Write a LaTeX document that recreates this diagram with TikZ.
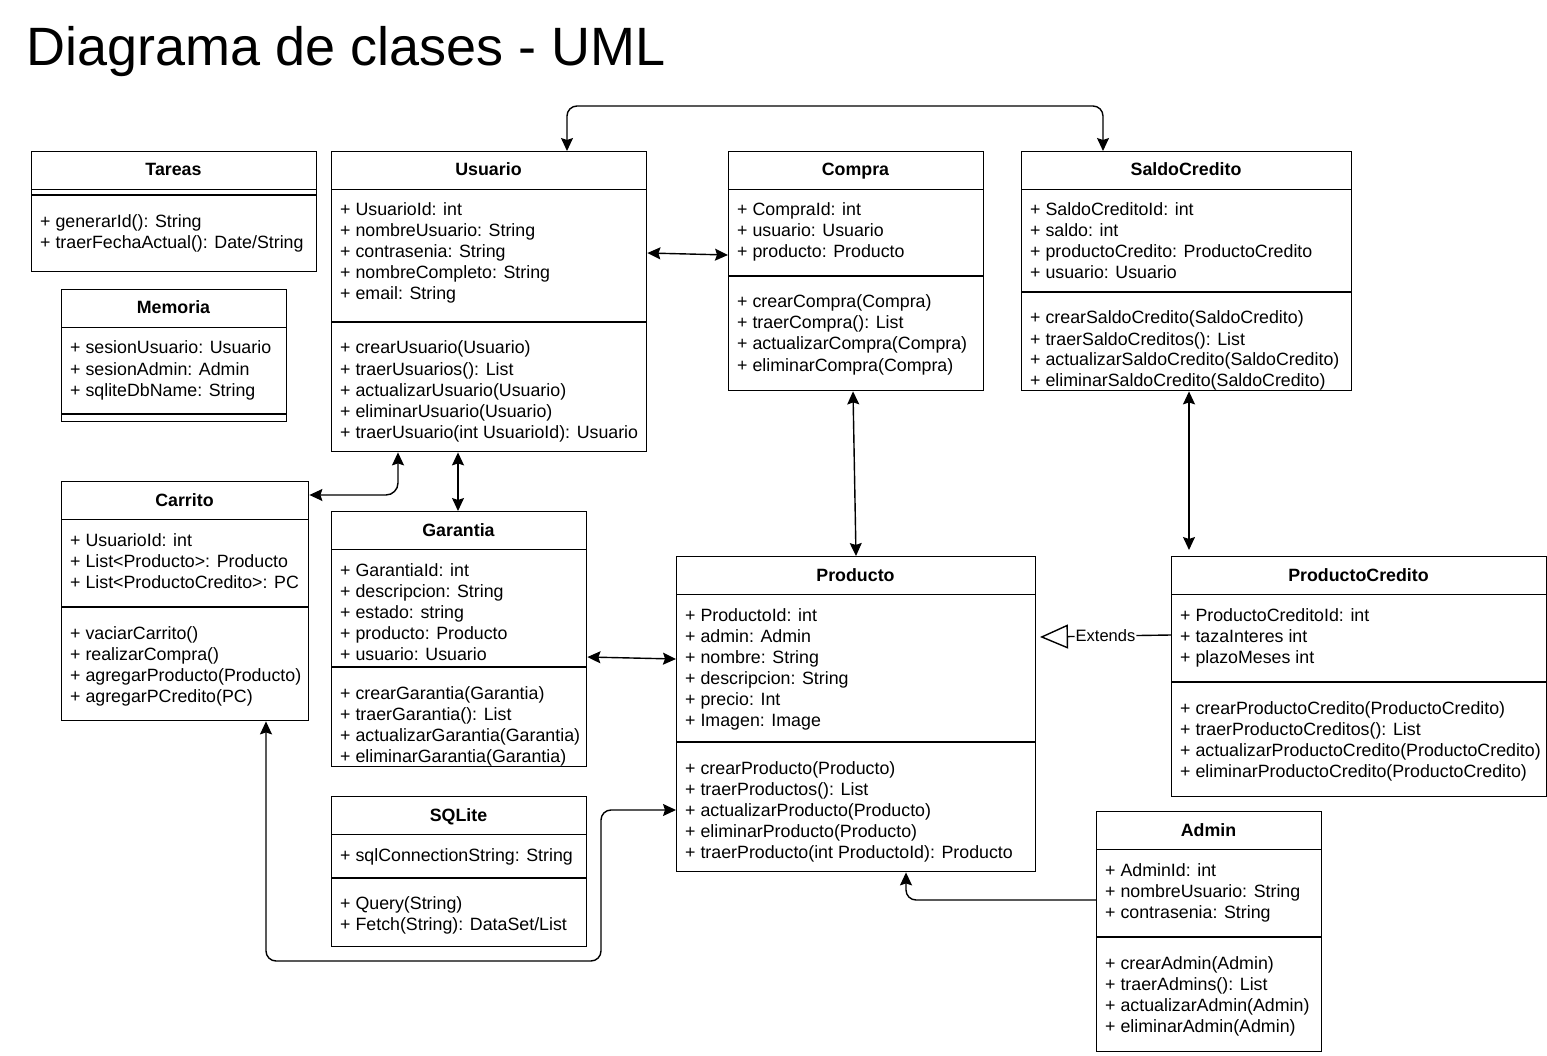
\documentclass[tikz,border=0pt]{standalone}
\usepackage{fontspec}
\setmainfont{Liberation Sans}
\usetikzlibrary{arrows.meta}
\tikzset{
  box/.style={draw, line width=1.4pt, inner sep=0pt},
  ln/.style={line width=1.4pt},
  hd/.style={font=\fontsize{17.8}{21}\selectfont\bfseries, anchor=base, inner sep=0pt},
  txt/.style={font=\fontsize{17.8}{21}\selectfont, anchor=base west, inner sep=0pt},
  ah/.tip={Stealth[length=13pt,width=12pt,inset=2pt]},
  conn/.style={line width=1.4pt, rounded corners=10pt},
  both/.style={conn, ah-ah},
  onearrow/.style={conn, -ah},
}
\newcommand\cls[6]{%
  \node[box, minimum width={(#4)-(#2)}, minimum height={(#5)-(#3)}, anchor=north west] (#1) at (#2,#3) {};
  \draw[ln] (#2,#3+38.5) -- (#4,#3+38.5);
  \node[hd] (#1-h) at ({((#2)+(#4))/2},#3+25) {#6};
}
\newcommand\sepl[3]{\draw[ln] (#1,#3) -- (#2,#3);}
\newcommand\lns[4]{%
  \foreach \ltxt [count=\i from 0] in {#4} {\node[txt] (#1-\i) at (#2,#3+21*\i) {\ltxt};}%
}
\begin{document}
\begin{tikzpicture}[x=1pt,y=-1pt]
\useasboundingbox (0,0) rectangle (1547,1056);

\node[font=\fontsize{54}{60}\selectfont, anchor=base west, inner sep=0pt] (title) at (26,66) {Diagrama de clases - UML};

% Tareas
\cls{tar}{31}{151}{316}{271}{Tareas}
\sepl{31}{316}{195}
\lns{tarm}{40}{228}{+ generarId(): String, + traerFechaActual(): Date/String}

% Memoria
\cls{mem}{61}{289}{286}{421}{Memoria}
\sepl{61}{286}{414}
\lns{mema}{70}{354}{+ sesionUsuario: Usuario, + sesionAdmin: Admin, + sqliteDbName: String}

% Usuario
\cls{usu}{331}{151}{646}{451}{Usuario}
\sepl{331}{646}{322}
\lns{usua}{340}{216}{+ UsuarioId: int, + nombreUsuario: String, + contrasenia: String, + nombreCompleto: String, + email: String}
\lns{usum}{340}{354}{+ crearUsuario(Usuario), + traerUsuarios(): List, + actualizarUsuario(Usuario), + eliminarUsuario(Usuario), + traerUsuario(int UsuarioId): Usuario}

% Compra
\cls{com}{728}{151}{983}{390}{Compra}
\sepl{728}{983}{276}
\lns{coma}{737}{216}{+ CompraId: int, + usuario: Usuario, + producto: Producto}
\lns{comm}{737}{308}{+ crearCompra(Compra), + traerCompra(): List, + actualizarCompra(Compra), + eliminarCompra(Compra)}

% SaldoCredito
\cls{sal}{1021}{151}{1351}{390}{SaldoCredito}
\sepl{1021}{1351}{292}
\lns{sala}{1030}{216}{+ SaldoCreditoId: int, + saldo: int, + productoCredito: ProductoCredito, + usuario: Usuario}
\lns{salm}{1030}{324}{+ crearSaldoCredito(SaldoCredito), + traerSaldoCreditos(): List, + actualizarSaldoCredito(SaldoCredito), + eliminarSaldoCredito(SaldoCredito)}

% Carrito
\cls{car}{61}{481}{308}{720}{Carrito}
\sepl{61}{308}{607}
\lns{cara}{70}{546}{+ UsuarioId: int, + List<Producto>: Producto, + List<ProductoCredito>: PC}
\lns{carm}{70}{639}{+ vaciarCarrito(), + realizarCompra(), + agregarProducto(Producto), + agregarPCredito(PC)}

% Garantia
\cls{gar}{331}{511}{586}{766}{Garantia}
\sepl{331}{586}{667}
\lns{gara}{340}{576}{+ GarantiaId: int, + descripcion: String, + estado: string, + producto: Producto, + usuario: Usuario}
\lns{garm}{340}{699}{+ crearGarantia(Garantia), + traerGarantia(): List, + actualizarGarantia(Garantia), + eliminarGarantia(Garantia)}

% Producto
\cls{pro}{676}{556}{1035}{871}{Producto}
\sepl{676}{1035}{742}
\lns{proa}{685}{621}{+ ProductoId: int, + admin: Admin, + nombre: String, + descripcion: String, + precio: Int, + Imagen: Image}
\lns{prom}{685}{774}{+ crearProducto(Producto), + traerProductos(): List, + actualizarProducto(Producto), + eliminarProducto(Producto), + traerProducto(int ProductoId): Producto}

% ProductoCredito
\cls{pc}{1171}{556}{1546}{796}{ProductoCredito}
\sepl{1171}{1546}{682}
\lns{pca}{1180}{621}{+ ProductoCreditoId: int, + tazaInteres int, + plazoMeses int}
\lns{pcm}{1180}{714}{+ crearProductoCredito(ProductoCredito), + traerProductoCreditos(): List, + actualizarProductoCredito(ProductoCredito), + eliminarProductoCredito(ProductoCredito)}

% SQLite
\cls{sql}{331}{796}{586}{946}{SQLite}
\sepl{331}{586}{878}
\lns{sqla}{340}{861}{+ sqlConnectionString: String}
\lns{sqlm}{340}{909}{+ Query(String), + Fetch(String): DataSet/List}

% Admin
\cls{adm}{1096}{811}{1321}{1051}{Admin}
\sepl{1096}{1321}{937}
\lns{adma}{1105}{876}{+ AdminId: int, + nombreUsuario: String, + contrasenia: String}
\lns{admm}{1105}{969}{+ crearAdmin(Admin), + traerAdmins(): List, + actualizarAdmin(Admin), + eliminarAdmin(Admin)}

% connectors
\coordinate (topL) at (567,106);
\coordinate (topR) at (1103,106);
\draw[both] ([xshift=236pt]usu.north west) -- (topL) -- (topR) -- ([xshift=82pt]sal.north west);
\draw[both] (usu.east |- 0,253) -- (com.west |- 0,255);
\draw[both] (com.south -| 853,0) -- (pro.north -| 856,0);
\coordinate (pctop) at (1189,550);
\draw[both] (sal.south -| 1189,0) -- (pctop);
\draw[both, rounded corners=12pt] ([xshift=67pt]usu.south west) |- (car.east |- 0,495);
\draw[both] ([xshift=127pt]usu.south west) -- (gar.north -| 458,0);
\draw[both] (gar.east |- 0,657) -- (pro.west |- 0,659);
\coordinate (c1) at (266,961);
\coordinate (c2) at (601,961);
\coordinate (c3) at (601,810);
\draw[both] ([xshift=205pt]car.south west) -- (c1) -- (c2) -- (c3) -- (pro.west |- 0,810);
\coordinate (extip) at (1040,637);
\draw[conn, -{Triangle[open, length=28pt, width=24pt]}] (pc.west |- 0,635) -- (extip)
  node[pos=0.5, fill=white, inner sep=1pt, font=\fontsize{16.5}{20}\selectfont] (ext) {Extends};
\draw[onearrow] (adm.west |- 0,900) -| ([xshift=230pt]pro.south west);
\end{tikzpicture}
\end{document}
